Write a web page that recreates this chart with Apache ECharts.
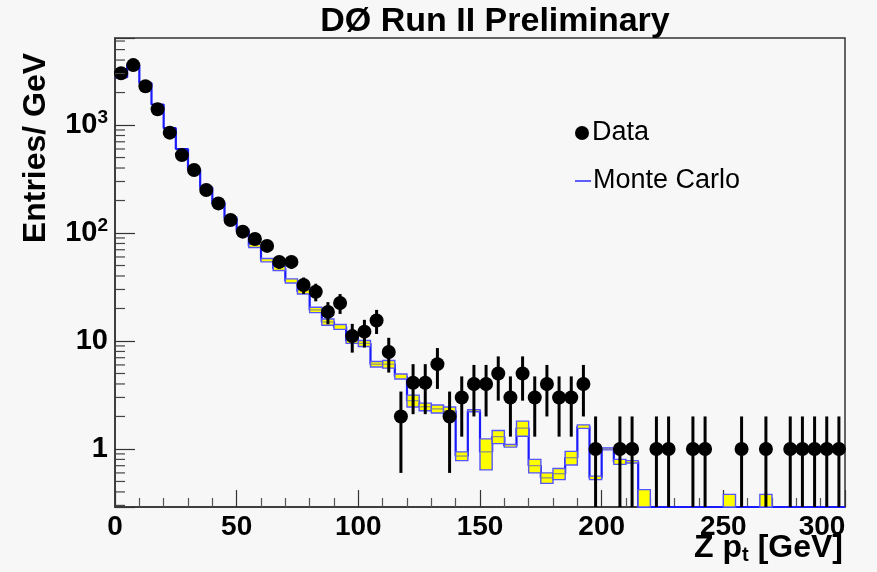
<!DOCTYPE html>
<html><head><meta charset="utf-8">
<script src="https://cdn.jsdelivr.net/npm/echarts@6/dist/echarts.min.js"></script>
<style>html,body{margin:0;padding:0;background:#f7f7f7}#c{width:877px;height:572px}</style>
</head><body><div id="c"></div>
<script>
// Bin centers (GeV), 5 GeV bins from 0 to 300
const binCenters = [2.5,7.5,12.5,17.5,22.5,27.5,32.5,37.5,42.5,47.5,
  52.5,57.5,62.5,67.5,72.5,77.5,82.5,87.5,92.5,97.5,
  102.5,107.5,112.5,117.5,122.5,127.5,132.5,137.5,142.5,147.5,
  152.5,157.5,162.5,167.5,172.5,177.5,182.5,187.5,192.5,197.5,
  202.5,207.5,212.5,217.5,222.5,227.5,232.5,237.5,242.5,247.5,
  252.5,257.5,262.5,267.5,272.5,277.5,282.5,287.5,292.5,297.5];
const binHalfWidth = 2.5;
// Data (entries / GeV) and errors; 0 = empty bin
const dataVals = [3020,3590,2290,1400,850,527,383,250,188,132,
  103,88,76,54,54,33,28.6,18.6,22.5,11.1,
  12.2,15.5,7.9,2,4.1,4.1,6.1,2,3,4,
  4,5,3,5,3,4,3,3,4,1,
  0,1,1,0,1,1,0,1,1,0,
  0,1,0,1,0,1,1,1,1,1];
const dataErr = [55,60,48,37,29,23,20,16,14,11.5,
  10,9.4,8.7,7.3,7.3,5.7,5.3,4.3,4.7,3.3,
  3.5,3.9,2.8,1.4,2,2,2.5,1.4,1.7,2,
  2,2.2,1.7,2.2,1.7,2,1.7,1.7,2,1,
  0,1,1,0,1,1,0,1,1,0,
  0,1,0,1,0,1,1,1,1,1];
// Monte Carlo prediction and its uncertainty
const mcVals = [2770,3600,2450,1550,935,600,385,262,190,137,
  105,76,56,47,36,28.6,19.4,15,13.5,10,
  9.5,6.1,6.1,4.7,2.8,2.46,2.35,2.25,0.86,2.26,
  0.94,1.3,1.07,1.56,0.70,0.54,0.59,0.83,1.61,0.54,
  1.0,0.76,0.76,0.21,0,0,0,0,0,0,
  0.19,0,0,0.19,0,0,0,0,0,0];
const mcErr = [20,25,20,15,11,9,7,5,4,3.5,
  3,2.5,2,2,1.6,1.4,1.1,1,0.7,0.5,
  0.6,0.35,0.5,0.25,0.35,0.2,0.2,0.2,0.08,0.05,
  0.3,0.18,0.03,0.25,0.1,0.06,0.07,0.12,0.06,0.02,
  0.02,0.04,0.02,0.21,0,0,0,0,0,0,
  0.19,0,0,0.19,0,0,0,0,0,0];
const xTicks = [0,50,100,150,200,250,300];
const yMin = 0.29, yMax = 6400;

const chart = echarts.init(document.getElementById('c'));

// step line points
const stepPts = [];
binCenters.forEach((c,i)=>{
  const v = Math.max(mcVals[i], yMin);
  stepPts.push([c-binHalfWidth, v], [c+binHalfWidth, v]);
});
const bandData = binCenters.map((c,i)=>[c, mcVals[i], mcErr[i]]);
const ptData = [], errData = [];
binCenters.forEach((c,i)=>{ if (dataVals[i] > 0){ ptData.push([c, dataVals[i]]); errData.push([c, dataVals[i], dataErr[i]]); } });
const minorVals = [];
for (let n=-1;n<=3;n++) for (let k=2;k<=9;k++){ const v=k*Math.pow(10,n); if (v>yMin && v<yMax) minorVals.push([0, v]); }

const F = 'Liberation Sans, Arial, Helvetica, sans-serif';

function clampY(y, cs){ return Math.min(Math.max(y, cs.y), cs.y+cs.height); }

chart.setOption({
  backgroundColor: '#f7f7f7',
  animation: false,
  grid: {left:115, right:32, top:38, bottom:65, show:true, borderColor:'#333', borderWidth:1.5, backgroundColor:'transparent'},
  xAxis: {
    type:'value', min:0, max:300, interval:50,
    axisLine:{onZero:false, lineStyle:{color:'#333', width:1.5}},
    axisTick:{inside:true, length:17, lineStyle:{color:'#333', width:1.2}},
    minorTick:{show:true, splitNumber:5, length:9, lineStyle:{color:'#555', width:1.2}},
    splitLine:{show:false},
    axisLabel:{color:'#000', fontFamily:F, fontWeight:'bold', fontSize:28, margin:6,
      formatter: v => {
        if (xTicks.indexOf(v) < 0) return '';
        return v === xTicks[xTicks.length-1] ? '{r|' + v + '}' : String(v);
      },
      rich:{ r:{fontSize:28, fontWeight:'bold', fontFamily:F, color:'#000', padding:[0,46,0,0]} }
    }
  },
  yAxis: {
    type:'log', min:yMin, max:yMax, logBase:10, splitNumber:4,
    axisLine:{lineStyle:{color:'#333', width:1.5}},
    axisTick:{inside:true, length:20, lineStyle:{color:'#333', width:1.2}},
    splitLine:{show:false},
    axisLabel:{color:'#000', fontFamily:F, fontWeight:'bold', fontSize:29, margin:7,
      formatter: v => {
        const l = Math.log10(v), r = Math.round(l);
        if (Math.abs(l-r) > 1e-6 || r < 0) return '';
        if (r === 0) return '1';
        if (r === 1) return '10';
        return '10{s|' + r + '}';
      },
      rich:{ s:{fontSize:19, fontWeight:'bold', fontFamily:F, color:'#000', verticalAlign:'top', padding:[0,0,14,0]} }
    }
  },
  graphic: [
    {type:'text', x:495, y:22, style:{text:'DØ Run II Preliminary', font:'bold 34px ' + F, fill:'#000', align:'center', verticalAlign:'middle'}},
    {type:'text', x:36, y:148, rotation:Math.PI/2, style:{text:'Entries/ GeV', font:'bold 32px ' + F, fill:'#000', align:'center', verticalAlign:'middle'}},
    {type:'text', x:843, y:548, style:{
      text:'{a|Z p}{b|t}{a| [GeV]}', align:'right', verticalAlign:'middle',
      rich:{a:{font:'bold 32px ' + F, fill:'#000'}, b:{font:'bold 20px ' + F, fill:'#000', padding:[14,0,0,0]}}}},
    {type:'circle', shape:{cx:582, cy:133, r:7}, style:{fill:'#000'}},
    {type:'text', x:592, y:133, style:{text:'Data', font:'27px ' + F, fill:'#000', align:'left', verticalAlign:'middle'}},
    {type:'line', shape:{x1:575, y1:181, x2:591, y2:181}, style:{stroke:'#2a2aff', lineWidth:1.5}},
    {type:'text', x:593, y:181, style:{text:'Monte Carlo', font:'27px ' + F, fill:'#000', align:'left', verticalAlign:'middle'}}
  ],
  series: [
    {type:'line', name:'Monte Carlo', data:stepPts, symbol:'none', z:2,
      lineStyle:{color:'#1a1aff', width:2.2}},
    {type:'custom', name:'MC uncertainty', data:bandData, z:3, silent:true,
      renderItem:(params, api)=>{
        const c = api.value(0), v = api.value(1), e = api.value(2);
        if (!(e > 0)) return;
        const cs = params.coordSys;
        const x0 = api.coord([c-binHalfWidth, yMax])[0], x1 = api.coord([c+binHalfWidth, yMax])[0];
        const yT = clampY(api.coord([c, v+e])[1], cs);
        const yB = (v-e) > 0 ? clampY(api.coord([c, v-e])[1], cs) : cs.y+cs.height;
        if (yB - yT < 1.5) return;
        const kids = [{type:'rect', shape:{x:x0, y:yT, width:x1-x0, height:yB-yT},
          style:{fill:'#ffff00', stroke:'#5555ff', lineWidth:1.4}}];
        if (v >= yMin && yB - yT >= 5) {
          const yc = api.coord([c, v])[1];
          kids.push({type:'line', shape:{x1:x0, y1:yc, x2:x1, y2:yc}, style:{stroke:'#8a8a8a', lineWidth:1.2}});
        }
        return {type:'group', children:kids};
      }},
    {type:'custom', name:'Data errors', data:errData, z:4, silent:true,
      renderItem:(params, api)=>{
        const c = api.value(0), v = api.value(1), e = api.value(2);
        const cs = params.coordSys;
        const x = api.coord([c, v])[0];
        const yT = clampY(api.coord([c, v+e])[1], cs);
        const yB = (v-e) > 0 ? clampY(api.coord([c, v-e])[1], cs) : cs.y+cs.height;
        return {type:'line', shape:{x1:x, y1:yT, x2:x, y2:yB}, style:{stroke:'#000', lineWidth:3}};
      }},
    {type:'scatter', name:'Data', data:ptData, symbol:'circle', symbolSize:14, z:5,
      itemStyle:{color:'#000', opacity:1}},
    {type:'custom', name:'minor ticks', data:minorVals, z:6, silent:true,
      renderItem:(params, api)=>{
        const p = api.coord([0, api.value(1)]);
        return {type:'line', shape:{x1:p[0], y1:p[1], x2:p[0]+10, y2:p[1]}, style:{stroke:'#444', lineWidth:1.2}};
      }}
  ]
});
</script></body></html>
